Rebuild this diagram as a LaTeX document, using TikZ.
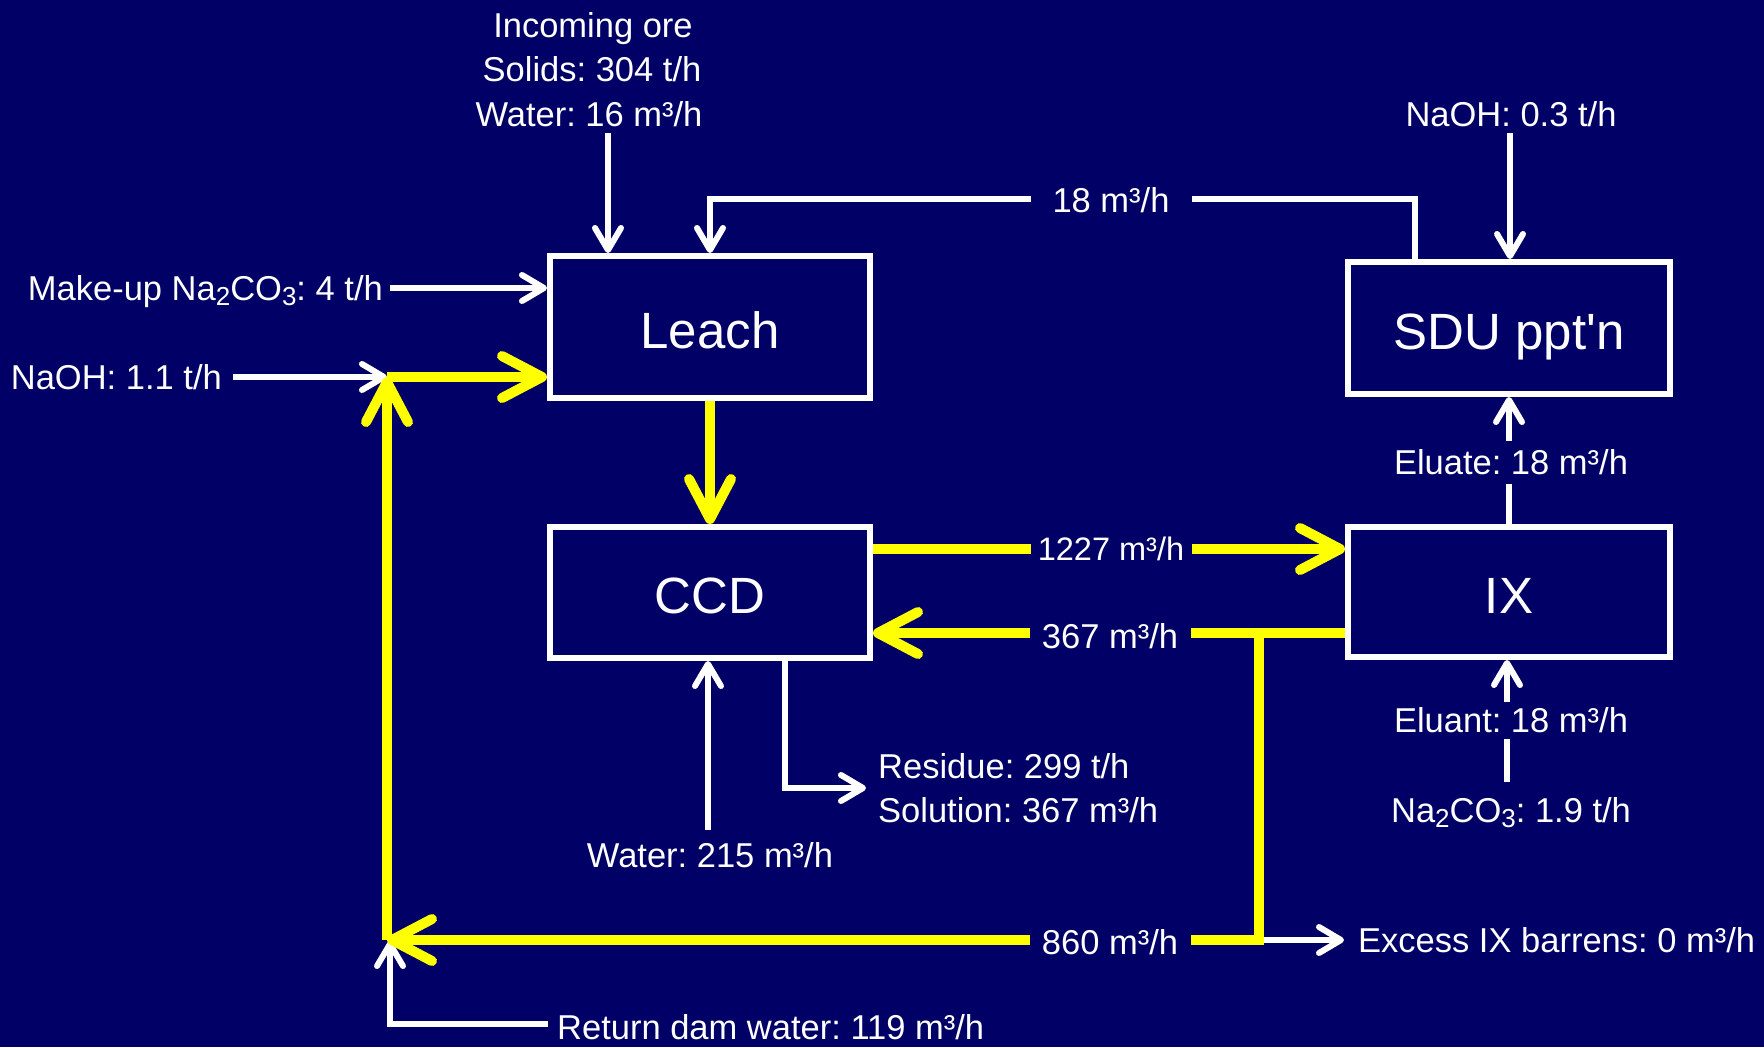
\documentclass[tikz,border=0pt]{standalone}
\usepackage{fontspec}
\setmainfont{Liberation Sans}
\usetikzlibrary{arrows.meta}
\definecolor{bg}{HTML}{000066}
\definecolor{yel}{HTML}{FFFF00}
\newcommand\mysub[1]{\raisebox{-5pt}{\fontsize{26}{26}\selectfont #1}}
\frenchspacing
\begin{document}
\begin{tikzpicture}[x=1pt,y=-1pt,
  lab/.style={font=\fontsize{34.5}{44.5}\selectfont, text=white, inner sep=0pt},
  box/.style={draw=white, line width=6pt, fill=bg, text=white, font=\fontsize{51}{51}\selectfont, text height=42pt, text depth=0pt, inner sep=0pt},
  wl/.style={draw=white, line width=6pt, -{Straight Barb[length=22pt,width=26pt,round]}},
  yl/.style={draw=yel, line width=10pt, -{Straight Barb[length=40pt,width=42pt,round]}},
  gap/.style={lab, fill=bg, minimum width=161pt, minimum height=30pt},
]
\fill[bg] (0,0) rectangle (1764,1047);
\useasboundingbox (0,0) rectangle (1764,1047);

% process boxes
\node[box, minimum width=320pt, minimum height=142pt] (leach) at (710,327) {Leach};
\node[box, minimum width=320pt, minimum height=131pt] (ccd) at (710,592.5) {CCD};
\node[box, minimum width=322pt, minimum height=132pt] (sdu) at (1509,328) {SDU ppt\textquotesingle n};
\node[box, minimum width=322pt, minimum height=130pt] (ix) at (1509,592) {IX};

% stream labels
\node[lab, anchor=base] (ore1) at (593,37) {Incoming ore};
\node[lab, anchor=base] (ore2) at (592,81) {Solids: 304 t/h};
\node[lab, anchor=base] (ore3) at (589,126) {Water: 16 m³/h};
\node[lab, anchor=base] (naohs) at (1511,126) {NaOH: 0.3 t/h};
\node[lab, anchor=base east] (mkup) at (383,300) {Make-up Na\mysub{2}CO\mysub{3}: 4 t/h};
\node[lab, anchor=base east] (naohl) at (222,389) {NaOH: 1.1 t/h};
\node[lab, anchor=base west] (xs) at (1358,952) {Excess IX barrens: 0 m³/h};
\node[lab, anchor=base west] (dam) at (557,1039) {Return dam water: 119 m³/h};
\node[lab, anchor=base] (ccdw) at (710,867) {Water: 215 m³/h};
\node[lab, anchor=base west] (res) at (878,778) {Residue: 299 t/h};
\node[lab, anchor=base west] (sol) at (878,822) {Solution: 367 m³/h};
\node[lab, anchor=base] (na2) at (1511,822) {Na\mysub{2}CO\mysub{3}: 1.9 t/h};

% free ends and junctions
\coordinate (oreA) at (608,133);
\coordinate (retR) at (1415,199);
\coordinate (retL) at (710,199);
\coordinate (naohA) at (1510,133);
\coordinate (mkA) at (390,288);
\coordinate (naA) at (233,377);
\coordinate (jn) at (387,377);
\coordinate (jb) at (387,940);
\coordinate (jr) at (1259,940);
\coordinate (jt) at (1259,633);
\coordinate (xsA) at (1262,940);
\coordinate (xsB) at (1344,940);
\coordinate (damA) at (548,1024);
\coordinate (damC) at (390,1024);
\coordinate (damT) at (390,941);
\coordinate (wA) at (708,830);
\coordinate (resA) at (785,788);
\coordinate (resT) at (866,788);
\coordinate (elA) at (1507,782);

% white connectors
\draw[wl] (oreA) -- (oreA |- leach.north);
\draw[wl] (sdu.north -| retR) -- (retR) -- (retL) -- (leach.north);
\draw[wl] (naohA) -- (naohA |- sdu.north);
\draw[wl] (mkA) -- (mkA -| leach.west);
\draw[wl] (naA) -- (jn);
\draw[wl] (xsA) -- (xsB);
\draw[wl] (damA) -- (damC) -- (damT);
\draw[wl] (wA) -- (wA |- ccd.south);
\draw[wl] (resA |- ccd.south) -- (resA) -- (resT);
\draw[wl] (ix.north) -- (sdu.south);
\draw[wl] (elA) -- (elA |- ix.south);

% yellow connectors
\draw[yl] (jn) -- (jn -| leach.west);
\draw[yl] (leach.south) -- (ccd.north);
\draw[yl] (ccd.east |- 0,549) -- (ix.west |- 0,549);
\draw[yl] (ix.west |- jt) -- (ccd.east |- jt);
\draw[yl, line join=miter] (jt) -- (jr) -- (jb);
\draw[yl] (jb) -- (jn);

% labels sitting on connectors
\node[gap] (l18) at (1111,200) {18 m³/h};
\node[gap, font=\fontsize{32.5}{40}\selectfont] (l1227) at (1111,549) {1227 m³/h};
\node[gap] (l367) at (1110,636) {367 m³/h};
\node[gap] (l860) at (1110,942) {860 m³/h};
\node[lab, fill=bg, minimum height=43pt] (eluate) at (1511,462) {Eluate: 18 m³/h};
\node[lab, fill=bg, minimum height=37pt] (eluant) at (1511,720) {Eluant: 18 m³/h};
\end{tikzpicture}
\end{document}
